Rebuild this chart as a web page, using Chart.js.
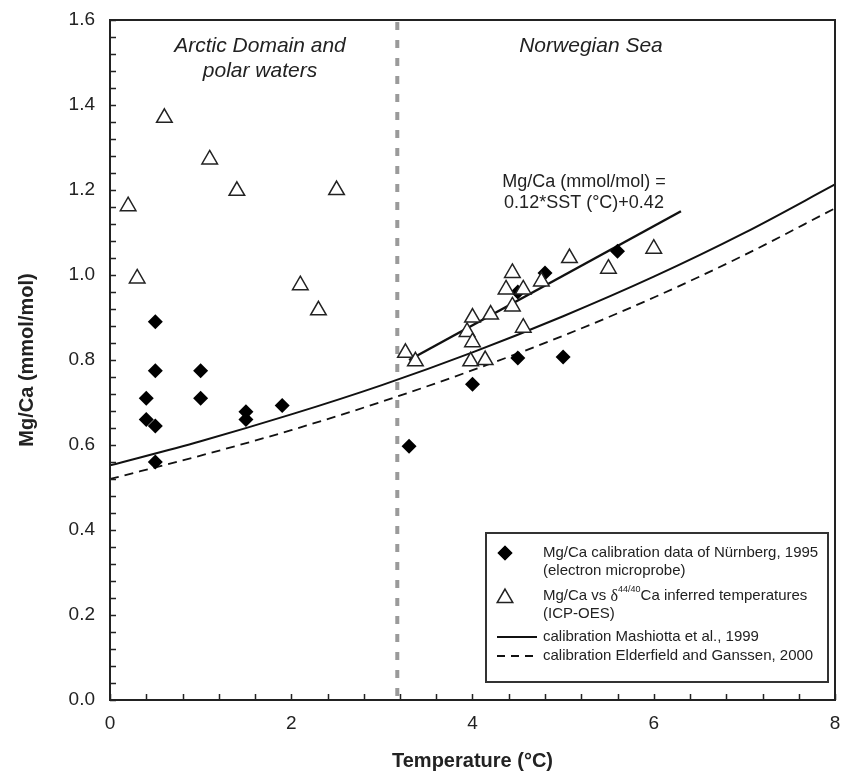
<!DOCTYPE html>
<html>
<head>
<meta charset="utf-8">
<script src="https://cdn.jsdelivr.net/npm/chart.js@4.4.0/dist/chart.umd.min.js"></script>
<style>
  html, body { margin: 0; padding: 0; background: #fff; }
  #wrap { width: 843px; height: 773px; }
</style>
</head>
<body>
<div id="wrap"><canvas id="chart" width="843" height="773"></canvas></div>
<script>
// Mg/Ca calibration data of Nürnberg, 1995 (electron microprobe)
var nurnbergT  = [0.5, 0.5, 0.4, 0.4, 0.5, 0.5, 1.0, 1.0, 1.5, 1.5, 1.9, 3.3, 4.0, 4.5, 5.0, 4.8, 4.5, 5.6];
var nurnbergMg = [0.89, 0.775, 0.71, 0.66, 0.645, 0.56, 0.775, 0.71, 0.678, 0.66, 0.693, 0.597, 0.743, 0.805, 0.807, 1.005, 0.96, 1.056];

// Mg/Ca vs d44/40Ca inferred temperatures (ICP-OES)
var icpT  = [0.6, 1.1, 1.4, 2.5, 0.2, 0.3, 2.1, 2.3, 3.26, 3.37, 4.0, 3.94, 4.0, 3.98, 4.14, 4.2, 4.44, 4.37, 4.56, 4.44, 4.76, 4.56, 5.07, 5.5, 6.0];
var icpMg = [1.37, 1.272, 1.198, 1.2, 1.162, 0.992, 0.976, 0.917, 0.817, 0.797, 0.9, 0.866, 0.842, 0.797, 0.8, 0.907, 1.005, 0.966, 0.966, 0.926, 0.985, 0.876, 1.04, 1.015, 1.062];

// calibration curves
var calibT       = [0, 1, 2, 3, 4, 5, 6, 7, 8];
var mashiottaMg  = [0.552, 0.609, 0.672, 0.741, 0.818, 0.903, 0.996, 1.099, 1.213];
var elderfieldMg = [0.52, 0.575, 0.635, 0.702, 0.776, 0.857, 0.947, 1.047, 1.157];

// regression line Mg/Ca = 0.12*SST+0.42 (end points)
var fitT  = [3.3, 6.3];
var fitMg = [0.80, 1.15];

// boundary Arctic Domain / Norwegian Sea
var boundaryT = 3.17;

var xTicks = [0, 2, 4, 6, 8];
var yTicks = [0.0, 0.2, 0.4, 0.6, 0.8, 1.0, 1.2, 1.4, 1.6];
var xMinorStep = 0.4;
var yMinorStep = 0.04;

function pts(xs, ys) {
  return xs.map(function (x, i) { return { x: x, y: ys[i] }; });
}

var FONT = '"Liberation Sans", Arial, Helvetica, sans-serif';
var INK = '#222';

// marker overflow would otherwise push the right edge of the plot inwards
Chart.ScatterController.prototype.getMaxOverflow = function () { return 0; };

var extras = {
  id: 'extras',
  beforeDatasetsDraw: function (chart) {
    var ctx = chart.ctx, a = chart.chartArea;
    var xs = chart.scales.x, ys = chart.scales.y;
    // vertical boundary
    var bx = xs.getPixelForValue(boundaryT);
    ctx.save();
    ctx.strokeStyle = '#9a9a9a';
    ctx.lineWidth = 4;
    ctx.setLineDash([8, 10]);
    ctx.beginPath();
    ctx.moveTo(bx, a.top + 2);
    ctx.lineTo(bx, a.bottom);
    ctx.stroke();
    ctx.restore();

    // region labels and equation
    ctx.save();
    ctx.fillStyle = INK;
    ctx.textAlign = 'center';
    ctx.textBaseline = 'middle';
    ctx.font = 'italic 21px ' + FONT;
    ctx.fillText('Arctic Domain and', 260, 46);
    ctx.fillText('polar waters', 260, 71);
    ctx.fillText('Norwegian Sea', 591, 46);
    ctx.font = '18px ' + FONT;
    ctx.fillText('Mg/Ca (mmol/mol) =', 584, 182);
    ctx.fillText('0.12*SST (\u00B0C)+0.42', 584, 203);
    ctx.restore();
  },
  afterDraw: function (chart) {
    var ctx = chart.ctx, a = chart.chartArea;
    var xs = chart.scales.x, ys = chart.scales.y;
    ctx.save();
    // frame
    ctx.strokeStyle = INK;
    ctx.lineWidth = 2;
    ctx.strokeRect(a.left, a.top, a.right - a.left, a.bottom - a.top);
    // inward ticks
    ctx.lineWidth = 1.5;
    ctx.beginPath();
    for (var v = 0; v <= 1.6 + 1e-9; v += yMinorStep) {
      var py = Math.round(ys.getPixelForValue(v)) + 0.5;
      ctx.moveTo(a.left, py);
      ctx.lineTo(a.left + 6, py);
    }
    for (var t = 0; t <= 8 + 1e-9; t += xMinorStep) {
      var px = Math.round(xs.getPixelForValue(t)) + 0.5;
      ctx.moveTo(px, a.bottom);
      ctx.lineTo(px, a.bottom - 6);
    }
    ctx.stroke();

    // legend box
    var L = 486, T = 533, R = 828, B = 682;
    ctx.fillStyle = '#fff';
    ctx.fillRect(L, T, R - L, B - T);
    ctx.strokeStyle = '#333';
    ctx.lineWidth = 2;
    ctx.strokeRect(L, T, R - L, B - T);

    var tx = 543;
    ctx.fillStyle = INK;
    ctx.textBaseline = 'middle';
    ctx.textAlign = 'left';
    ctx.font = '15px ' + FONT;

    Chart.helpers.drawPoint(ctx, { pointStyle: 'rectRot', radius: 7.5, borderWidth: 0 }, 505, 553);
    ctx.fillStyle = '#000';
    ctx.fill();
    ctx.fillStyle = INK;
    ctx.fillText('Mg/Ca calibration data of N\u00FCrnberg, 1995', tx, 553);
    ctx.fillText('(electron microprobe)', tx, 571);

    ctx.fillStyle = '#fff';
    ctx.strokeStyle = INK;
    ctx.lineWidth = 1.5;
    Chart.helpers.drawPoint(ctx, { pointStyle: 'triangle', radius: 9, borderWidth: 1.5 }, 505, 598);
    ctx.fillStyle = INK;
    var s1 = 'Mg/Ca vs ';
    ctx.fillText(s1, tx, 596);
    var cx = tx + ctx.measureText(s1).width;
    ctx.font = '16px "Liberation Serif", "DejaVu Serif", serif';
    ctx.fillText('\u03B4', cx, 597);
    cx += ctx.measureText('\u03B4').width;
    ctx.font = '9px ' + FONT;
    ctx.fillText('44/40', cx, 590);
    cx += ctx.measureText('44/40').width;
    ctx.font = '15px ' + FONT;
    ctx.fillText('Ca inferred temperatures', cx, 596);
    ctx.fillText('(ICP-OES)', tx, 614);

    ctx.strokeStyle = '#111';
    ctx.lineWidth = 2;
    ctx.beginPath();
    ctx.moveTo(497, 637); ctx.lineTo(537, 637);
    ctx.stroke();
    ctx.fillText('calibration Mashiotta et al., 1999', tx, 637);

    ctx.lineWidth = 1.8;
    ctx.setLineDash([8, 6]);
    ctx.beginPath();
    ctx.moveTo(497, 656); ctx.lineTo(537, 656);
    ctx.stroke();
    ctx.setLineDash([]);
    ctx.fillText('calibration Elderfield and Ganssen, 2000', tx, 656);
    ctx.restore();
  }
};

new Chart(document.getElementById('chart'), {
  type: 'scatter',
  data: {
    datasets: [
      {
        label: 'Mg/Ca vs \u03B444/40Ca inferred temperatures (ICP-OES)',
        data: pts(icpT, icpMg),
        pointStyle: 'triangle',
        pointRadius: 9,
        backgroundColor: '#fff',
        borderColor: INK,
        borderWidth: 1.5,
        showLine: false
      },
      {
        label: 'Mg/Ca calibration data of N\u00FCrnberg, 1995 (electron microprobe)',
        data: pts(nurnbergT, nurnbergMg),
        pointStyle: 'rectRot',
        pointRadius: 7.5,
        backgroundColor: '#000',
        borderColor: '#000',
        borderWidth: 0,
        showLine: false
      },
      {
        label: 'Mg/Ca (mmol/mol) = 0.12*SST (\u00B0C)+0.42',
        data: pts(fitT, fitMg),
        showLine: true,
        pointRadius: 0,
        borderColor: '#111',
        borderWidth: 2.5
      },
      {
        label: 'calibration Mashiotta et al., 1999',
        data: pts(calibT, mashiottaMg),
        showLine: true,
        pointRadius: 0,
        borderColor: '#111',
        borderWidth: 2,
        cubicInterpolationMode: 'monotone'
      },
      {
        label: 'calibration Elderfield and Ganssen, 2000',
        data: pts(calibT, elderfieldMg),
        showLine: true,
        pointRadius: 0,
        borderColor: '#111',
        borderWidth: 1.8,
        borderDash: [9, 6],
        cubicInterpolationMode: 'monotone'
      }
    ]
  },
  options: {
    responsive: false,
    animation: false,
    events: [],
    layout: { padding: { left: 0, top: 20, right: 8, bottom: 0 } },
    plugins: { legend: { display: false }, tooltip: { enabled: false } },
    scales: {
      x: {
        type: 'linear',
        min: 0, max: 8,
        afterBuildTicks: function (s) { s.ticks = xTicks.map(function (v) { return { value: v }; }); },
        afterFit: function (s) { s.height = 73; s.paddingLeft = 0; s.paddingRight = 0; },
        grid: { display: false, drawTicks: false },
        border: { display: true, color: INK, width: 2 },
        ticks: { color: INK, font: { family: FONT, size: 19 }, padding: 12, maxRotation: 0,
                 callback: function (v) { return String(v); } },
        title: { display: true, text: 'Temperature (\u00B0C)', color: INK,
                 font: { family: FONT, size: 20, weight: 'bold' }, padding: { top: 0, bottom: 0 } }
      },
      y: {
        type: 'linear',
        min: 0, max: 1.6,
        afterBuildTicks: function (s) { s.ticks = yTicks.map(function (v) { return { value: v }; }); },
        afterFit: function (s) { s.width = 110; s.paddingTop = 0; s.paddingBottom = 0; },
        grid: { display: false, drawTicks: false },
        border: { display: true, color: INK, width: 2 },
        ticks: { color: INK, font: { family: FONT, size: 19 }, padding: 15,
                 callback: function (v) { return Number(v).toFixed(1); } },
        title: { display: true, text: 'Mg/Ca (mmol/mol)', color: INK,
                 font: { family: FONT, size: 20, weight: 'bold' }, padding: { top: 15, bottom: 0 } }
      }
    }
  },
  plugins: [extras]
});
</script>
</body>
</html>
